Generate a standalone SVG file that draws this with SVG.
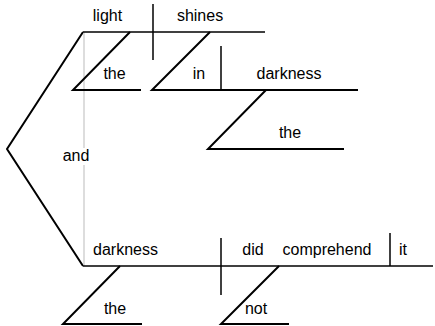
<svg xmlns="http://www.w3.org/2000/svg" width="435" height="326" viewBox="0 0 435 326">
<style>
.t{font-family:"Liberation Sans",Arial,sans-serif;font-size:16px;fill:#000;text-anchor:middle}
.b{stroke:#000;stroke-width:1.5;fill:none}
.s{stroke:#000;stroke-width:2;fill:none}
.g{stroke:#bbb;stroke-width:1;fill:none}
</style>
<rect width="435" height="326" fill="#fff"/>
<g id="connectors">
<polyline class="s" points="83,32 7,149 83,266"/>
<line class="g" x1="84" y1="32" x2="84" y2="148"/>
<line class="g" x1="84" y1="165" x2="84" y2="266"/>
</g>
<g id="clause1">
<line class="b" x1="83" y1="32" x2="265" y2="32"/>
<line class="b" x1="153" y1="4" x2="153" y2="60"/>
<text class="t" x="107.5" y="21">light</text>
<text class="t" x="200" y="21">shines</text>
</g>
<g id="the1">
<polyline class="s" points="130,32 73,90 141,90"/>
<text class="t" x="114.5" y="79">the</text>
</g>
<g id="in">
<polyline class="s" points="210,32 152,90 358,90"/>
<line class="b" x1="221" y1="46" x2="221" y2="90"/>
<text class="t" x="199" y="79">in</text>
<text class="t" x="289" y="79">darkness</text>
</g>
<g id="the2">
<polyline class="s" points="266,90 208,149 344,149"/>
<text class="t" x="290" y="138">the</text>
</g>
<g id="and">
<text class="t" x="76" y="161">and</text>
</g>
<g id="clause2">
<line class="b" x1="83" y1="266" x2="433" y2="266"/>
<line class="b" x1="221" y1="238" x2="221" y2="295"/>
<line class="b" x1="390" y1="233" x2="390" y2="266"/>
<text class="t" x="125.5" y="255">darkness</text>
<text class="t" x="253" y="255">did</text>
<text class="t" x="327" y="255">comprehend</text>
<text class="t" x="403" y="255">it</text>
</g>
<g id="the3">
<polyline class="s" points="120,266 63,324 142,324"/>
<text class="t" x="115" y="314">the</text>
</g>
<g id="not">
<polyline class="s" points="279,266 221,324 289,324"/>
<text class="t" x="256" y="314">not</text>
</g>
</svg>
